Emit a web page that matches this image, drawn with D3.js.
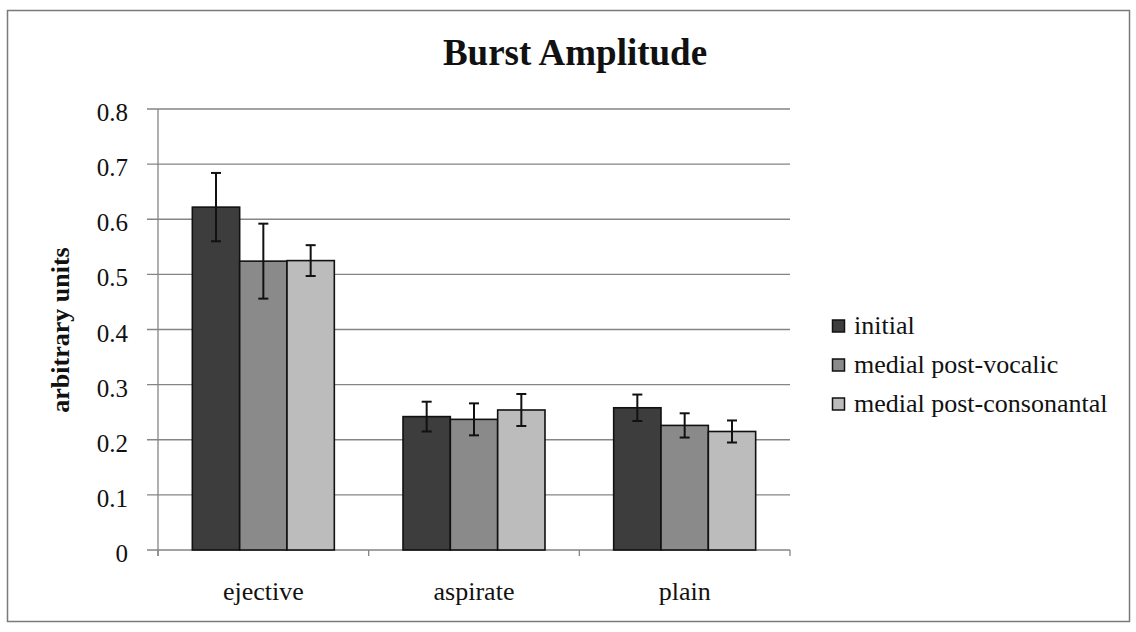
<!DOCTYPE html>
<html>
<head>
<meta charset="utf-8">
<script src="https://cdn.jsdelivr.net/npm/d3@7"></script>
<style>
  body { margin: 0; background: #fff; }
  svg text { font-family: "Liberation Serif", "Times New Roman", serif; fill: #111; }
</style>
</head>
<body>
<script>
// categories and series
var categories = ["ejective", "aspirate", "plain"];
var seriesNames = ["initial", "medial post-vocalic", "medial post-consonantal"];
var seriesColors = ["#3d3d3d", "#8a8a8a", "#bcbcbc"];

// bar heights per series (one value per category)
var initialValues = [0.622, 0.242, 0.258];
var postVocalicValues = [0.524, 0.237, 0.226];
var postConsonantalValues = [0.525, 0.254, 0.215];

// error bar half lengths
var initialErr = [0.062, 0.027, 0.024];
var postVocalicErr = [0.068, 0.029, 0.022];
var postConsonantalErr = [0.028, 0.029, 0.020];

// y axis ticks
var yTicks = [0, 0.1, 0.2, 0.3, 0.4, 0.5, 0.6, 0.7, 0.8];
var yTickLabels = ["0", "0.1", "0.2", "0.3", "0.4", "0.5", "0.6", "0.7", "0.8"];

function drawChart() {
  var w = 1136;
  var h = 632;
  // plot area edges (window.top is taken, so other names)
  var plotLeft = 158, plotRight = 790, plotTop = 109, plotBottom = 550;

  // put rows together for drawing
  var allValues = [initialValues, postVocalicValues, postConsonantalValues];
  var allErr = [initialErr, postVocalicErr, postConsonantalErr];
  var bars = [];
  for (var s = 0; s < seriesNames.length; s++) {
    for (var c = 0; c < categories.length; c++) {
      bars.push({ cat: categories[c], series: seriesNames[s], idx: s,
                  value: allValues[s][c], err: allErr[s][c] });
    }
  }

  var svg = d3.select("body").append("svg")
    .attr("width", w)
    .attr("height", h);

  // outer frame
  svg.append("rect")
    .attr("x", 7.5).attr("y", 10.5)
    .attr("width", 1122).attr("height", 611)
    .attr("fill", "none")
    .attr("stroke", "#7a7a7a")
    .attr("stroke-width", 1.5);

  var xScale = d3.scaleBand()
    .domain(categories)
    .range([plotLeft, plotRight])
    .paddingInner(0.326)
    .paddingOuter(0.163);

  var xSub = d3.scaleBand()
    .domain(seriesNames)
    .range([0, xScale.bandwidth()]);

  var yScale = d3.scaleLinear()
    .domain([0, 0.8])
    .range([plotBottom, plotTop]);

  // gridlines
  svg.append("g")
    .selectAll("line")
    .data(yTicks)
    .enter()
    .append("line")
    .attr("x1", plotLeft - 11)
    .attr("x2", plotRight)
    .attr("y1", d => yScale(d))
    .attr("y2", d => yScale(d))
    .attr("stroke", "#858585")
    .attr("stroke-width", 1.3);

  // y axis line
  svg.append("line")
    .attr("x1", plotLeft).attr("x2", plotLeft)
    .attr("y1", plotTop).attr("y2", plotBottom + 6)
    .attr("stroke", "#858585")
    .attr("stroke-width", 1.3);

  // y tick labels
  svg.append("g")
    .selectAll("text")
    .data(yTicks)
    .enter()
    .append("text")
    .attr("x", 128)
    .attr("y", d => yScale(d) + 12)
    .attr("text-anchor", "end")
    .style("font-size", "25px")
    .text((d, i) => yTickLabels[i]);

  // category boundary ticks
  var boundaries = [plotLeft].concat(categories.map(c => xScale(c) + xScale.bandwidth() + xScale.step() * 0.163));
  svg.append("g")
    .selectAll("line")
    .data(boundaries)
    .enter()
    .append("line")
    .attr("x1", d => d).attr("x2", d => d)
    .attr("y1", plotBottom).attr("y2", plotBottom + 6)
    .attr("stroke", "#858585")
    .attr("stroke-width", 1.3);

  // category labels
  svg.append("g")
    .selectAll("text")
    .data(categories)
    .enter()
    .append("text")
    .attr("x", d => xScale(d) + xScale.bandwidth() / 2)
    .attr("y", 600)
    .attr("text-anchor", "middle")
    .style("font-size", "26px")
    .text(d => d);

  // bars
  svg.append("g")
    .selectAll("rect")
    .data(bars)
    .enter()
    .append("rect")
    .attr("x", d => xScale(d.cat) + xSub(d.series))
    .attr("y", d => yScale(d.value))
    .attr("width", xSub.bandwidth())
    .attr("height", d => yScale(0) - yScale(d.value))
    .attr("fill", d => seriesColors[d.idx])
    .attr("stroke", "#111")
    .attr("stroke-width", 1.6);

  // error bars
  var errG = svg.append("g")
    .selectAll("g")
    .data(bars)
    .enter()
    .append("g")
    .attr("stroke", "#111")
    .attr("stroke-width", 2);

  var midX = d => xScale(d.cat) + xSub(d.series) + xSub.bandwidth() / 2;

  errG.append("line")
    .attr("x1", midX)
    .attr("x2", midX)
    .attr("y1", d => yScale(d.value + d.err))
    .attr("y2", d => yScale(d.value - d.err));

  errG.append("line")
    .attr("x1", d => midX(d) - 5)
    .attr("x2", d => midX(d) + 5)
    .attr("y1", d => yScale(d.value + d.err))
    .attr("y2", d => yScale(d.value + d.err));

  errG.append("line")
    .attr("x1", d => midX(d) - 5)
    .attr("x2", d => midX(d) + 5)
    .attr("y1", d => yScale(d.value - d.err))
    .attr("y2", d => yScale(d.value - d.err));

  // title
  svg.append("text")
    .attr("x", 575)
    .attr("y", 65)
    .attr("text-anchor", "middle")
    .style("font-size", "37px")
    .style("font-weight", "bold")
    .text("Burst Amplitude");

  // y axis title
  svg.append("text")
    .attr("transform", "translate(69,330) rotate(-90)")
    .attr("text-anchor", "middle")
    .style("font-size", "26px")
    .style("font-weight", "bold")
    .text("arbitrary units");

  // legend
  var legend = svg.append("g")
    .selectAll("g")
    .data(seriesNames)
    .enter()
    .append("g")
    .attr("transform", (d, i) => "translate(832," + (326 + i * 39) + ")");

  legend.append("rect")
    .attr("x", 0.5)
    .attr("y", -6)
    .attr("width", 12)
    .attr("height", 12)
    .attr("fill", (d, i) => seriesColors[i])
    .attr("stroke", "#111")
    .attr("stroke-width", 1.5);

  legend.append("text")
    .attr("x", 22)
    .attr("y", 8)
    .style("font-size", "26px")
    .text(d => d);
}

drawChart();
</script>
</body>
</html>
